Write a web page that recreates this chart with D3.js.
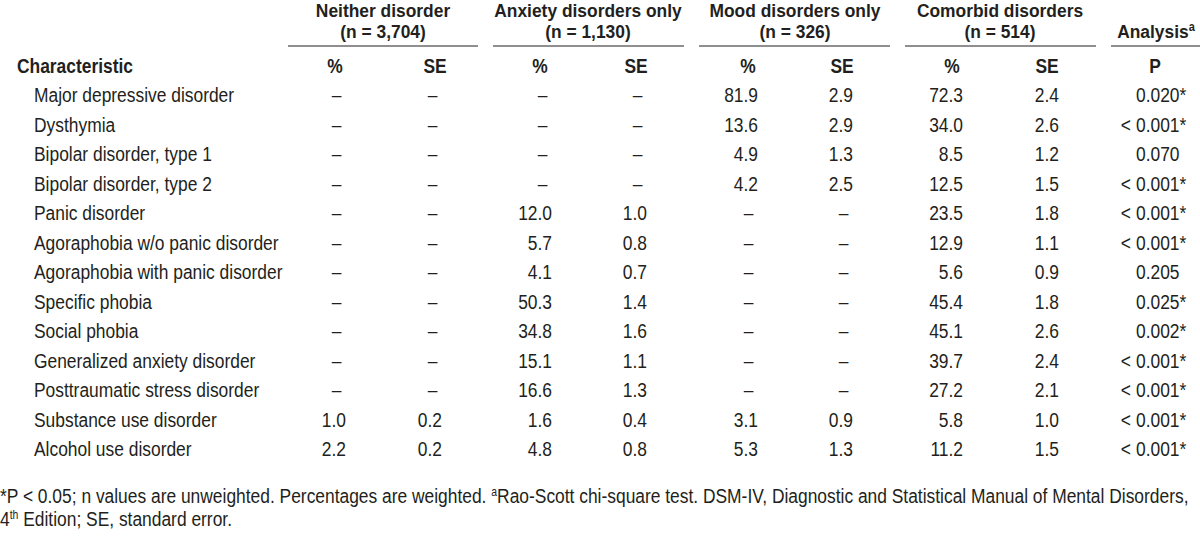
<!DOCTYPE html>
<html>
<head>
<meta charset="utf-8">
<script src="https://cdn.jsdelivr.net/npm/d3@7"></script>
<style>
  html, body { margin: 0; padding: 0; background: #fff; }
  svg { display: block; }
  text { font-family: "Liberation Sans Narrow", "Arial Narrow", "Liberation Sans", Arial, sans-serif; fill: #231f20; }
</style>
</head>
<body>
<svg id="chart" width="1200" height="546"></svg>
<script>
const characteristics = [
  "Major depressive disorder", "Dysthymia", "Bipolar disorder, type 1", "Bipolar disorder, type 2",
  "Panic disorder", "Agoraphobia w/o panic disorder", "Agoraphobia with panic disorder",
  "Specific phobia", "Social phobia", "Generalized anxiety disorder",
  "Posttraumatic stress disorder", "Substance use disorder", "Alcohol use disorder"
];
const groups = ["Neither disorder", "Anxiety disorders only", "Mood disorders only", "Comorbid disorders"];
const groupN = ["(n = 3,704)", "(n = 1,130)", "(n = 326)", "(n = 514)"];
const subHeaders = ["%", "SE"];
const neitherPct = [null, null, null, null, null, null, null, null, null, null, null, "1.0", "2.2"];
const neitherSE  = [null, null, null, null, null, null, null, null, null, null, null, "0.2", "0.2"];
const anxietyPct = [null, null, null, null, "12.0", "5.7", "4.1", "50.3", "34.8", "15.1", "16.6", "1.6", "4.8"];
const anxietySE  = [null, null, null, null, "1.0", "0.8", "0.7", "1.4", "1.6", "1.1", "1.3", "0.4", "0.8"];
const moodPct    = ["81.9", "13.6", "4.9", "4.2", null, null, null, null, null, null, null, "3.1", "5.3"];
const moodSE     = ["2.9", "2.9", "1.3", "2.5", null, null, null, null, null, null, null, "0.9", "1.3"];
const comorbidPct = ["72.3", "34.0", "8.5", "12.5", "23.5", "12.9", "5.6", "45.4", "45.1", "39.7", "27.2", "5.8", "11.2"];
const comorbidSE  = ["2.4", "2.6", "1.2", "1.5", "1.8", "1.1", "0.9", "1.8", "2.6", "2.4", "2.1", "1.0", "1.5"];
const pValues = ["0.020*", "< 0.001*", "0.070", "< 0.001*", "< 0.001*", "< 0.001*", "0.205",
                 "0.025*", "0.002*", "< 0.001*", "< 0.001*", "< 0.001*", "< 0.001*"];
const footnote1 = ["*P < 0.05; n values are unweighted. Percentages are weighted. ", "a", "Rao-Scott chi-square test. DSM-IV, Diagnostic and Statistical Manual of Mental Disorders,"];
const footnote2 = ["4", "th", " Edition; SE, standard error."];

const valueCols = [neitherPct, neitherSE, anxietyPct, anxietySE, moodPct, moodSE, comorbidPct, comorbidSE];
const colKeys = d3.range(valueCols.length);

const svg = d3.select("#chart");
const FS = 20;
const HFS = 19;
const SUP = 12;
const SX = 0.87;

// scales
const y = d3.scaleBand().domain(characteristics).range([83, 83 + 29.5 * characteristics.length]);
const colRight = d3.scaleOrdinal().domain(colKeys).range([346, 442, 552, 647, 758, 853, 963, 1059]);
const colHead = d3.scaleOrdinal().domain(colKeys).range([335, 435, 540, 636, 748, 842, 952, 1047]);
const grpX = d3.scaleOrdinal().domain(groups).range([383, 588, 795, 1000]);
const grpLine = d3.scaleOrdinal().domain(groups).range([[288, 478], [493, 684], [699, 890], [905, 1096]]);
const baseline = d => y(d) + 19.5;

// group headers
const gh = svg.append("g");
gh.selectAll("text.g1").data(groups).join("text").attr("class", "g1 hdr")
  .attr("x", d => grpX(d)).attr("y", 17).attr("text-anchor", "middle")
  .attr("font-size", HFS).attr("font-weight", "bold").text(d => d);
gh.selectAll("text.g2").data(groups).join("text").attr("class", "g2 hdr")
  .attr("x", d => grpX(d)).attr("y", 38.5).attr("text-anchor", "middle")
  .attr("font-size", HFS).attr("font-weight", "bold").text((d, i) => groupN[i]);
gh.selectAll("line").data(groups).join("line")
  .attr("x1", d => grpLine(d)[0]).attr("x2", d => grpLine(d)[1])
  .attr("y1", 46).attr("y2", 46).attr("stroke", "#231f20").attr("stroke-width", 1.2);
gh.append("line").attr("x1", 1111).attr("x2", 1200).attr("y1", 46).attr("y2", 46)
  .attr("stroke", "#231f20").attr("stroke-width", 1.2);
const an = gh.append("text").attr("class", "hdr").attr("x", 1156).attr("y", 38.5).attr("text-anchor", "middle")
  .attr("font-size", HFS).attr("font-weight", "bold");
an.append("tspan").text("Analysis");
an.append("tspan").attr("font-size", SUP).attr("dy", -7).text("a");

// column sub headers
svg.append("text").attr("x", 17).attr("y", 73).attr("font-size", FS).attr("font-weight", "bold").text("Characteristic");
svg.selectAll("text.sub").data(colKeys).join("text").attr("class", "sub")
  .attr("x", d => colHead(d)).attr("y", 73).attr("text-anchor", "middle")
  .attr("font-size", FS).attr("font-weight", "bold").text(d => subHeaders[d % 2]);
svg.append("text").attr("x", 1155).attr("y", 73).attr("text-anchor", "middle")
  .attr("font-size", FS).attr("font-weight", "bold").text("P");

// row labels
svg.selectAll("text.row").data(characteristics).join("text").attr("class", "row")
  .attr("x", 34).attr("y", d => baseline(d)).attr("font-size", FS).text(d => d);

// values
colKeys.forEach(k => {
  const g = svg.append("g");
  g.selectAll("text").data(characteristics.map((c, i) => ({ c, v: valueCols[k][i] }))).join("text")
    .attr("x", d => d.v === null ? colRight(k) - 9.5 : colRight(k))
    .attr("y", d => baseline(d.c))
    .attr("text-anchor", d => d.v === null ? "middle" : "end")
    .attr("font-size", FS)
    .text(d => d.v === null ? "\u2013" : d.v);
});

// P values: decimal-aligned, "< " prefix hangs left
const pg = svg.append("g");
pg.selectAll("text.pnum").data(characteristics.map((c, i) => ({ c, v: pValues[i] }))).join("text")
  .attr("x", 1136).attr("y", d => baseline(d.c)).attr("font-size", FS)
  .text(d => d.v.replace("< ", ""));
pg.selectAll("text.pre").data(characteristics.map((c, i) => ({ c, v: pValues[i] })).filter(d => d.v.startsWith("<"))).join("text")
  .attr("x", 1131).attr("y", d => baseline(d.c)).attr("font-size", FS).attr("text-anchor", "end")
  .text("<");

// footnotes
const f1 = svg.append("text").attr("x", 0).attr("y", 503).attr("font-size", FS);
f1.append("tspan").text(footnote1[0]);
f1.append("tspan").attr("font-size", SUP).attr("dy", -7).text(footnote1[1]);
f1.append("tspan").attr("dy", 7).text(footnote1[2]);
const f2 = svg.append("text").attr("x", 0).attr("y", 526).attr("font-size", FS);
f2.append("tspan").text(footnote2[0]);
f2.append("tspan").attr("font-size", SUP).attr("dy", -7).text(footnote2[1]);
f2.append("tspan").attr("dy", 7).text(footnote2[2]);

// emulate a narrow face: compress each text horizontally about its anchor
svg.selectAll("text").each(function () {
  const x = +this.getAttribute("x") || 0;
  const sx = this.classList.contains("hdr") ? SX * FS / HFS : SX;
  d3.select(this).attr("transform", `translate(${x},0) scale(${sx},1) translate(${-x},0)`);
});
</script>
</body>
</html>
